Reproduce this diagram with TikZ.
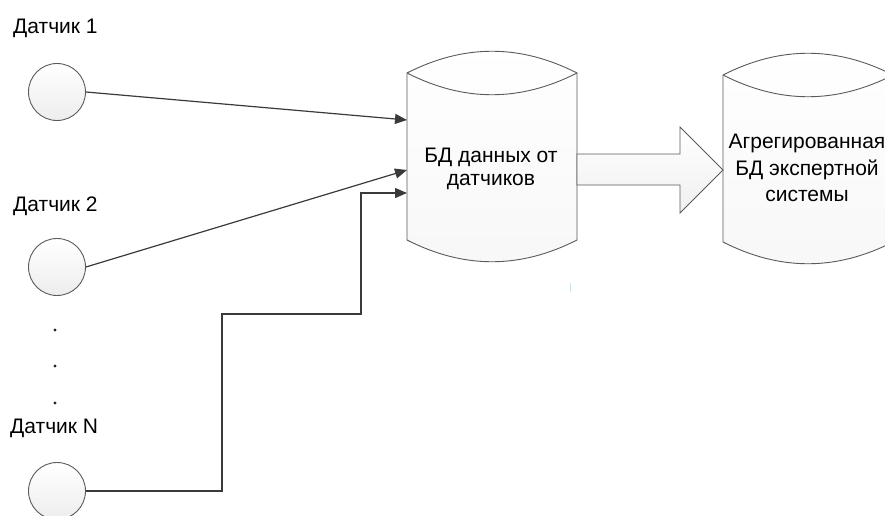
\documentclass[tikz,border=0pt]{standalone}
\usepackage{fontspec}
\setmainfont{Liberation Sans}
\usetikzlibrary{arrows.meta}
\definecolor{linec}{HTML}{3A3A3A}
\definecolor{shapec}{HTML}{5A5A5A}
\tikzset{
  sensor/.style={circle,draw=shapec,line width=0.9pt,minimum size=57pt,inner sep=0pt,top color=white,bottom color=gray!14},
  lbl/.style={anchor=base west,font=\fontsize{21pt}{25pt}\selectfont,text=black,inner sep=0pt},
  dbtext/.style={align=center,font=\fontsize{21pt}{#1}\selectfont,text=black,inner sep=0pt},
  dbshape/.style={draw=shapec,line width=0.9pt,top color=white,bottom color=gray!6},
  conn/.style={draw=linec,line width=1.2pt,-{Triangle[length=12pt,width=10pt]}},
  blockarrow/.style={draw=shapec,line width=0.9pt,top color=white,bottom color=gray!12},
  dotc/.style={fill=black!85}
}
\begin{document}
\begin{tikzpicture}[x=1pt,y=-1pt]
\useasboundingbox (0,0) rectangle (885,516);
% sensors
\node[sensor] (s1) at (57,92) {};
\node[sensor] (s2) at (57,267) {};
\node[sensor] (sN) at (57,491) {};
\node[lbl] (l1) at (13,34) {Датчик 1};
\node[lbl] (l2) at (13,211) {Датчик 2};
\node[lbl] (lN) at (10,433) {Датчик N};
\fill[dotc] (55,330) circle (1.6);
\fill[dotc] (55,366) circle (1.6);
\fill[dotc] (55,403) circle (1.6);
% DB 1
\path[dbshape] (407,73) .. controls (464,44) and (520,44) .. (577,73) -- (577,240)
   .. controls (520,269) and (464,269) .. (407,240) -- cycle;
\draw[draw=shapec,line width=0.9pt] (407,73) .. controls (464,102) and (520,102) .. (577,73);
\node[dbtext=23.5pt] (db1) at (491,169) {БД данных от\\датчиков};
% DB 2
\path[dbshape] (723,75) .. controls (780,46) and (836,46) .. (893,75) -- (893,242)
   .. controls (836,271) and (780,271) .. (723,242) -- cycle;
\draw[draw=shapec,line width=0.9pt] (723,75) .. controls (780,104) and (836,104) .. (893,75);
\node[dbtext=26.5pt] (db2) at (807,168) {Агрегированная\\БД экспертной\\системы};
% block arrow
\path[blockarrow] (577,154) -- (680,154) -- (680,127) -- (723,170) -- (680,213) -- (680,185) -- (577,185) -- cycle;
% connector endpoints
\coordinate (in1) at (407,120);
\coordinate (in2) at (407,170);
\coordinate (in3) at (407,193);
\coordinate (b1) at (222,491);
\coordinate (b2) at (222,314);
\coordinate (b3) at (361,314);
\coordinate (b4) at (361,193);
\draw[conn] (s1.east) -- (in1);
\draw[conn] (s2.east) -- (in2);
\draw[conn] (sN.east) -- (b1) -- (b2) -- (b3) -- (b4) -- (in3);
% small mark
\draw[cyan!25,line width=1pt] (570,283) -- (570,292);
\end{tikzpicture}
\end{document}
